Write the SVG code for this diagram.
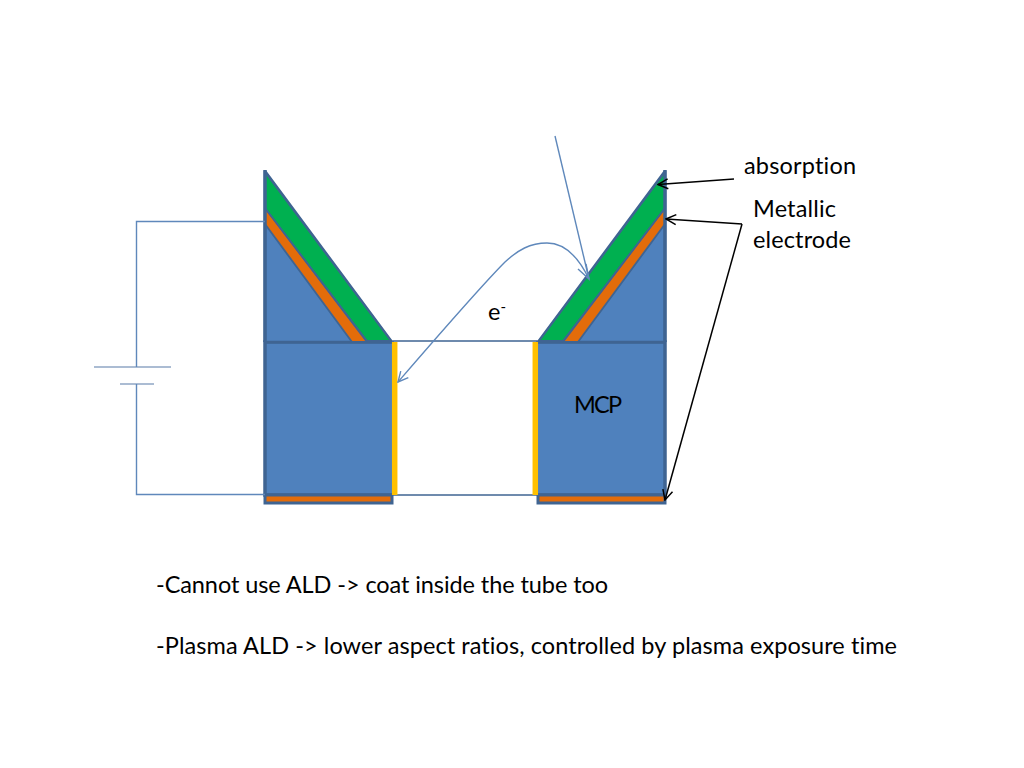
<svg xmlns="http://www.w3.org/2000/svg" width="1024" height="768" viewBox="0 0 1024 768">
<style>
.s{stroke:#3f6492;stroke-width:2.500;stroke-linejoin:bevel}
.r{stroke:#3f6492;stroke-width:3;stroke-linejoin:miter}
.i{stroke:#3f6492;stroke-width:1.800;stroke-linejoin:bevel}
.e{fill:none;stroke:#3f6492;stroke-width:3.500}
.blue{fill:#4f81bd}.green{fill:#00b050}.orange{fill:#e36c0a}
.wire{fill:none;stroke:#5f88bb;stroke-width:1.400}
.bat{fill:none;stroke:#8fa6c4;stroke-width:1.600}
.blk{fill:none;stroke:#000;stroke-width:1.500}
.y{stroke:#ffc000;stroke-width:5.500;fill:none}
.t{font-family:Lato,"Open Sans","Liberation Sans",sans-serif;font-size:23.500px;fill:#000;font-variant-ligatures:none}
</style>
<defs>
<marker id="ab" viewBox="0 0 12 12" refX="11" refY="6" markerWidth="12" markerHeight="12" markerUnits="userSpaceOnUse" orient="auto"><path d="M1 1L11 6L1 11" fill="none" stroke="#000" stroke-width="1.500"/></marker>
<marker id="ae" viewBox="0 0 12 12" refX="11" refY="6" markerWidth="12" markerHeight="12" markerUnits="userSpaceOnUse" orient="auto"><path d="M1 1L11 6L1 11" fill="none" stroke="#5f88bb" stroke-width="1.400"/></marker>
</defs>
<g id="channel"><rect x="393" y="341" width="144" height="154" fill="#fff" stroke="#3f6492" stroke-width="1.500"/></g>
<g id="left-mcp">
<rect class="blue" x="265" y="342" width="127" height="153"/>
<path class="e" d="M392 342H265V495H392"/>
<polygon class="s blue" points="265,171 392,342 265,342"/>
<polygon class="i orange" points="265,208 367,342 352,342 265,224"/>
<polygon class="i green" points="265,172 391,341 367,341 265,208"/>
<path class="e" d="M265 170V342"/>
<rect class="r orange" x="265" y="495" width="127" height="8"/>
<line class="y" x1="394.700" y1="342" x2="394.700" y2="495"/>
</g>
<g id="right-mcp">
<rect class="blue" x="538" y="342" width="127" height="153"/>
<path class="e" d="M538 342H665V495H538"/>
<polygon class="s blue" points="665,171 665,342 538,342"/>
<polygon class="i orange" points="665,208 665,224 578,342 563,342"/>
<polygon class="i green" points="665,172 665,208 563,341 539,341"/>
<path class="e" d="M665 170V342"/>
<rect class="r orange" x="538" y="495" width="127" height="8"/>
<line class="y" x1="535.300" y1="342" x2="535.300" y2="495"/>
</g>
<g id="battery">
<line class="bat" x1="94" y1="367" x2="171" y2="367"/>
<line class="bat" x1="120" y1="384" x2="154" y2="384"/>
</g>
<g id="connectors">
<path class="wire" d="M265 221.500H136.500V367M136.500 384V494.500H265"/>
<path class="wire" d="M555 136L589 279"/>
<path class="wire" d="M589 279C575 250 560 243 547 243C530 243 518 250 505 262C480 287 430 345 398 382" marker-end="url(#ae)"/>
<path class="blk" d="M734 179L658 184.500" marker-end="url(#ab)"/>
<path class="blk" d="M742 224L666 219" marker-end="url(#ab)"/>
<path class="blk" d="M742 224L665 500" marker-end="url(#ab)"/>
<path class="wire" d="M578 269L589 279L586 264"/>
</g>
<g id="labels">
<text class="t" x="744" y="174" textLength="112">absorption</text>
<text class="t" x="753" y="217" textLength="83">Metallic</text>
<text class="t" x="753" y="248" textLength="98">electrode</text>
<text class="t" x="488" y="320">e<tspan font-size="15" dy="-8">-</tspan></text>
<text class="t" x="574" y="413" textLength="48">MCP</text>
<text class="t" x="156" y="593" textLength="452">-Cannot use ALD -&gt; coat inside the tube too</text>
<text class="t" x="156" y="654" textLength="741">-Plasma ALD -&gt; lower aspect ratios, controlled by plasma exposure time</text>
</g>
</svg>
